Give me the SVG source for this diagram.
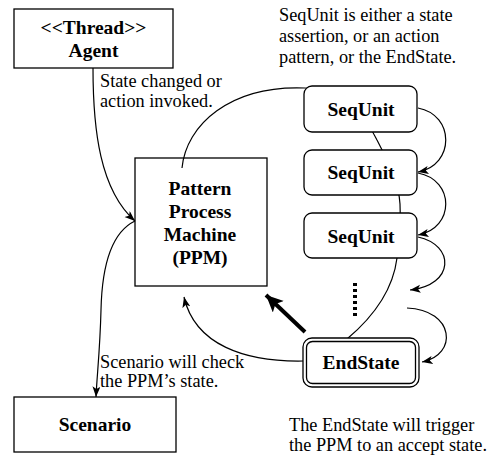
<svg xmlns="http://www.w3.org/2000/svg" width="487" height="457" viewBox="0 0 487 457">
<style>
  .box{fill:#fff;stroke:#000;stroke-width:1.3}
  .lbl{font-family:"Liberation Serif","Times New Roman",serif;font-weight:bold;font-size:19.5px;text-anchor:middle;fill:#000}
  .note{font-family:"Liberation Serif","Times New Roman",serif;font-size:18.3px;fill:#000}
  .con{fill:none;stroke:#000;stroke-width:1.2}
</style>
<defs>
  <marker id="ah" markerUnits="userSpaceOnUse" markerWidth="12" markerHeight="10" refX="10.5" refY="4" orient="auto">
    <path d="M0,0 L10.5,4 L0,8 L2.5,4 z" fill="#000"/>
  </marker>
  <marker id="big" markerUnits="userSpaceOnUse" markerWidth="20" markerHeight="18" refX="17" refY="8" orient="auto">
    <path d="M0,0 L17,8 L0,16 L4,8 z" fill="#000"/>
  </marker>
</defs>
<g id="connectors">
  <path class="con" d="M182,168 C186,125 230,85 305,88 C345,90 365,115 377,140 C390,165 399,185 400,204 C401,225 400,242 397,258 C393,290 372,318 347,339"/>
  <path class="con" d="M93,68 C93,130 100,190 135,221" marker-end="url(#ah)"/>
  <path class="con" d="M135,221 C112,232 102,265 101,310 C100,350 97,375 96,397" marker-end="url(#ah)"/>
  <path class="con" d="M303,361 C245,362 195,345 184,297" marker-end="url(#ah)"/>
  <path class="con" d="M418,108 C455,115 455,165 418,172" marker-end="url(#ah)"/>
  <path class="con" d="M418,173 C455,180 455,228 418,235" marker-end="url(#ah)"/>
  <path class="con" d="M418,237 C455,245 455,285 410,290" marker-end="url(#ah)"/>
  <path class="con" d="M407,308 C455,310 458,355 422,362" marker-end="url(#ah)"/>
  <path fill="none" stroke="#000" stroke-width="4" d="M305,332 L266,295" marker-end="url(#big)"/>
  <path fill="none" stroke="#000" stroke-width="4" stroke-dasharray="3,3" d="M355,283 L355,317"/>
</g>
<g id="agent">
  <rect class="box" x="14" y="9" width="159" height="59"/>
  <text class="lbl" x="93.5" y="34">&lt;&lt;Thread&gt;&gt;</text>
  <text class="lbl" x="93.5" y="57">Agent</text>
</g>
<g id="ppm">
  <rect class="box" x="135" y="158" width="132" height="128" style="fill:none"/>
  <text class="lbl" x="200" y="195">Pattern</text>
  <text class="lbl" x="200" y="218">Process</text>
  <text class="lbl" x="200" y="241">Machine</text>
  <text class="lbl" x="200" y="264">(PPM)</text>
</g>
<g id="seq1">
  <rect class="box" x="304" y="86" width="113" height="46" rx="8"/>
  <text class="lbl" x="361" y="116">SeqUnit</text>
</g>
<g id="seq2">
  <rect class="box" x="304" y="150" width="113" height="45" rx="8"/>
  <text class="lbl" x="361" y="179">SeqUnit</text>
</g>
<g id="seq3">
  <rect class="box" x="304" y="213" width="113" height="45" rx="8"/>
  <text class="lbl" x="361" y="243">SeqUnit</text>
</g>
<g id="endstate">
  <rect class="box" x="303" y="338" width="116" height="49" rx="9" stroke-width="1.6"/>
  <rect x="306.5" y="341.5" width="109" height="42" rx="6" fill="none" stroke="#000" stroke-width="1.3"/>
  <text class="lbl" x="361" y="369">EndState</text>
</g>
<g id="scenario">
  <rect class="box" x="14" y="397" width="162" height="55"/>
  <text class="lbl" x="95" y="431">Scenario</text>
</g>
<g id="notes">
  <text class="note" x="279" y="21">SeqUnit is either a state</text>
  <text class="note" x="279" y="42">assertion, or an action</text>
  <text class="note" x="279" y="63">pattern, or the EndState.</text>
  <text class="note" x="100" y="87">State changed or</text>
  <text class="note" x="100" y="107">action invoked.</text>
  <text class="note" x="100" y="368">Scenario will check</text>
  <text class="note" x="100" y="387">the PPM’s state.</text>
  <text class="note" x="289" y="431">The EndState will trigger</text>
  <text class="note" x="289" y="451">the PPM to an accept state.</text>
</g>
</svg>
